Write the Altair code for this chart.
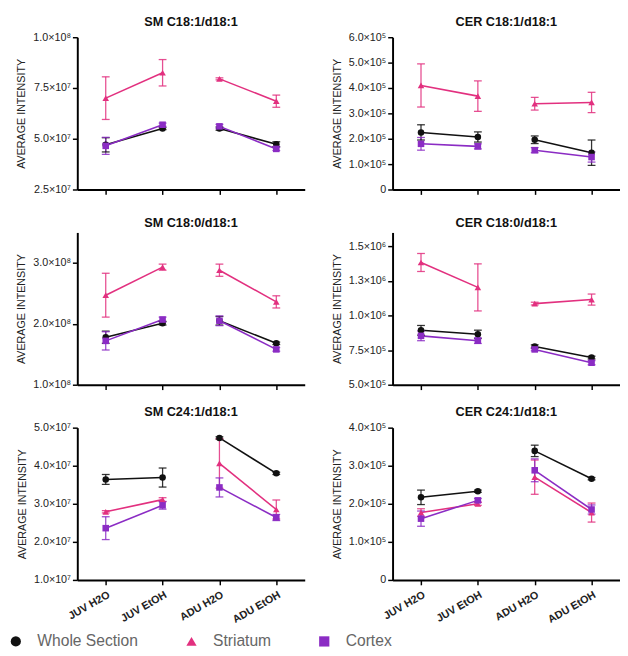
import altair as alt
import pandas as pd

groups = ["JUV  H2O", "JUV EtOH", "ADU H2O", "ADU EtOH"]
ages = ["JUV", "JUV", "ADU", "ADU"]
series = ["Whole Section", "Striatum", "Cortex"]
series_colors = ["#111111", "#E2307F", "#8B2CC4"]
series_shapes = ["circle", "triangle-up", "square"]

titles = ["SM C18:1/d18:1", "CER C18:1/d18:1", "SM C18:0/d18:1",
          "CER C18:0/d18:1", "SM C24:1/d18:1", "CER C24:1/d18:1"]

# values in axis units of each panel (order: groups)
sm181_whole = [4.70, 5.50, 5.50, 4.73]
sm181_whole_err = [0.35, 0.05, 0.08, 0.12]
sm181_str = [7.00, 8.25, 7.95, 6.85]
sm181_str_err = [1.05, 0.65, 0.05, 0.30]
sm181_ctx = [4.65, 5.69, 5.61, 4.50]
sm181_ctx_err = [0.42, 0.08, 0.10, 0.08]

cer181_whole = [2.25, 2.07, 1.96, 1.45]
cer181_whole_err = [0.30, 0.20, 0.15, 0.50]
cer181_str = [4.10, 3.68, 3.38, 3.43]
cer181_str_err = [0.85, 0.60, 0.25, 0.40]
cer181_ctx = [1.80, 1.70, 1.55, 1.28]
cer181_ctx_err = [0.25, 0.10, 0.10, 0.20]

sm180_whole = [1.78, 2.01, 2.05, 1.68]
sm180_whole_err = [0.10, 0.03, 0.07, 0.02]
sm180_str = [2.47, 2.93, 2.88, 2.36]
sm180_str_err = [0.36, 0.05, 0.10, 0.10]
sm180_ctx = [1.72, 2.07, 2.05, 1.58]
sm180_ctx_err = [0.15, 0.04, 0.08, 0.03]

cer180_whole = [0.893, 0.864, 0.776, 0.696]
cer180_whole_err = [0.035, 0.030, 0.012, 0.010]
cer180_str = [1.383, 1.203, 1.086, 1.115]
cer180_str_err = [0.065, 0.170, 0.010, 0.040]
cer180_ctx = [0.853, 0.818, 0.755, 0.659]
cer180_ctx_err = [0.035, 0.020, 0.010, 0.015]

sm241_whole = [3.64, 3.69, 4.73, 3.80]
sm241_whole_err = [0.13, 0.25, 0.03, 0.03]
sm241_str = [2.79, 3.11, 4.06, 2.85]
sm241_str_err = [0.03, 0.05, 0.65, 0.25]
sm241_ctx = [2.36, 2.96, 3.43, 2.64]
sm241_ctx_err = [0.30, 0.10, 0.25, 0.08]

cer241_whole = [2.17, 2.33, 3.39, 2.66]
cer241_whole_err = [0.19, 0.03, 0.15, 0.03]
cer241_str = [1.77, 2.00, 2.70, 1.77]
cer241_str_err = [0.10, 0.04, 0.45, 0.25]
cer241_ctx = [1.61, 2.09, 2.88, 1.85]
cer241_ctx_err = [0.20, 0.05, 0.30, 0.12]

ticks = [
    [2.5, 5, 7.5, 10],
    [0, 1, 2, 3, 4, 5, 6],
    [1, 2, 3],
    [0.5, 0.75, 1, 1.25, 1.5],
    [1, 2, 3, 4, 5],
    [0, 1, 2, 3, 4],
]
tick_labels = [
    ["2.5×10⁷", "5.0×10⁷", "7.5×10⁷", "1.0×10⁸"],
    ["0", "1.0×10⁵", "2.0×10⁵", "3.0×10⁵", "4.0×10⁵", "5.0×10⁵", "6.0×10⁵"],
    ["1.0×10⁸", "2.0×10⁸", "3.0×10⁸"],
    ["5.0×10⁵", "7.5×10⁵", "1.0×10⁶", "1.3×10⁶", "1.5×10⁶"],
    ["1.0×10⁷", "2.0×10⁷", "3.0×10⁷", "4.0×10⁷", "5.0×10⁷"],
    ["0", "1.0×10⁵", "2.0×10⁵", "3.0×10⁵", "4.0×10⁵"],
]
domains = [[2.5, 10], [0, 6], [1, 3.5], [0.5, 1.6], [1, 5], [0, 4]]

panel_data = [
    ((sm181_whole, sm181_whole_err), (sm181_str, sm181_str_err), (sm181_ctx, sm181_ctx_err)),
    ((cer181_whole, cer181_whole_err), (cer181_str, cer181_str_err), (cer181_ctx, cer181_ctx_err)),
    ((sm180_whole, sm180_whole_err), (sm180_str, sm180_str_err), (sm180_ctx, sm180_ctx_err)),
    ((cer180_whole, cer180_whole_err), (cer180_str, cer180_str_err), (cer180_ctx, cer180_ctx_err)),
    ((sm241_whole, sm241_whole_err), (sm241_str, sm241_str_err), (sm241_ctx, sm241_ctx_err)),
    ((cer241_whole, cer241_whole_err), (cer241_str, cer241_str_err), (cer241_ctx, cer241_ctx_err)),
]

FONT = "Liberation Sans"


def label_expr(tks, labs):
    expr = "''"
    for t, l in reversed(list(zip(tks, labs))):
        expr = f"abs(datum.value - {t}) < 1e-9 ? '{l}' : {expr}"
    return expr


legend_kw = dict(title=None, orient="none", legendX=-71, legendY=611,
                 direction="horizontal", labelFont=FONT, labelFontSize=16,
                 labelColor="#666", symbolSize=110, symbolStrokeWidth=0,
                 columnPadding=46, labelOffset=14, labelLimit=300)


def make_panel(i):
    rows = []
    for s, (m, e) in zip(series, panel_data[i]):
        for g, a, v, ee in zip(groups, ages, m, e):
            rows.append(dict(group=g, age=a, series=s, s2=s, v=v, lo=v - ee, hi=v + ee))
    df = pd.DataFrame(rows)
    show_x = i >= 4
    x = alt.X("group:N", sort=groups, scale=alt.Scale(type="point", padding=0.5),
              axis=alt.Axis(title=None, labels=show_x, labelAngle=-30,
                            labelFontSize=11, labelFontWeight="bold",
                            labelAlign="right", labelBaseline="top", labelPadding=4))
    yscale = alt.Scale(domain=domains[i], nice=False, zero=False)
    yaxis = alt.Axis(title="AVERAGE INTENSITY", values=ticks[i], labelOverlap=False,
                     labelExpr=label_expr(ticks[i], tick_labels[i]))
    y = alt.Y("v:Q", scale=yscale, axis=yaxis)
    ylo = alt.Y("lo:Q", scale=yscale, axis=yaxis)
    yhi = alt.Y("hi:Q", scale=yscale, axis=yaxis)
    sscale = alt.Scale(range=series_colors)
    stroke_nl = alt.Stroke("s2:N", sort=series, scale=sscale, legend=None)
    fill_nl = alt.Fill("s2:N", sort=series, scale=sscale, legend=None)
    base = alt.Chart(df)
    lines = base.mark_line(strokeWidth=1.6).encode(x=x, y=y, stroke=stroke_nl, detail="age:N")
    bars = base.mark_rule(strokeWidth=1.3, opacity=0.85).encode(
        x=x, y=ylo, y2="hi:Q", stroke=stroke_nl)
    cap_lo = base.mark_tick(orient="horizontal", size=8, thickness=1.3, opacity=0.85).encode(
        x=x, y=ylo, fill=fill_nl)
    cap_hi = base.mark_tick(orient="horizontal", size=8, thickness=1.3, opacity=0.85).encode(
        x=x, y=yhi, fill=fill_nl)
    pts = base.mark_point(filled=True, size=45, opacity=1).encode(
        x=x, y=y,
        color=alt.Color("series:N", scale=alt.Scale(domain=series, range=series_colors),
                        legend=alt.Legend(**legend_kw)),
        shape=alt.Shape("series:N", scale=alt.Scale(domain=series, range=series_shapes),
                        legend=alt.Legend(**legend_kw)))
    return alt.layer(lines, bars, cap_lo, cap_hi, pts).properties(
        width=233, height=156,
        title=alt.TitleParams(titles[i], fontSize=13, fontWeight="bold", font=FONT,
                              anchor="middle", frame="group", offset=3, color="#111"))


panels = [make_panel(i) for i in range(6)]

chart = alt.concat(*panels, columns=2, spacing={"row": 44, "column": 90},
                   bounds="flush").configure_view(stroke=None).configure_axis(
    grid=False, domainColor="#000", domainWidth=2, tickColor="#000", tickWidth=1.5,
    tickSize=5, labelFont=FONT, labelFontSize=11, labelColor="#222",
    titleFont=FONT, titleFontSize=11, titleFontWeight="normal", titleColor="#222",
    titlePadding=6
).properties(padding={"left": 0, "top": 0, "right": 0, "bottom": 0})

chart.save("out.html", embed_options={"renderer": "svg", "actions": False})
